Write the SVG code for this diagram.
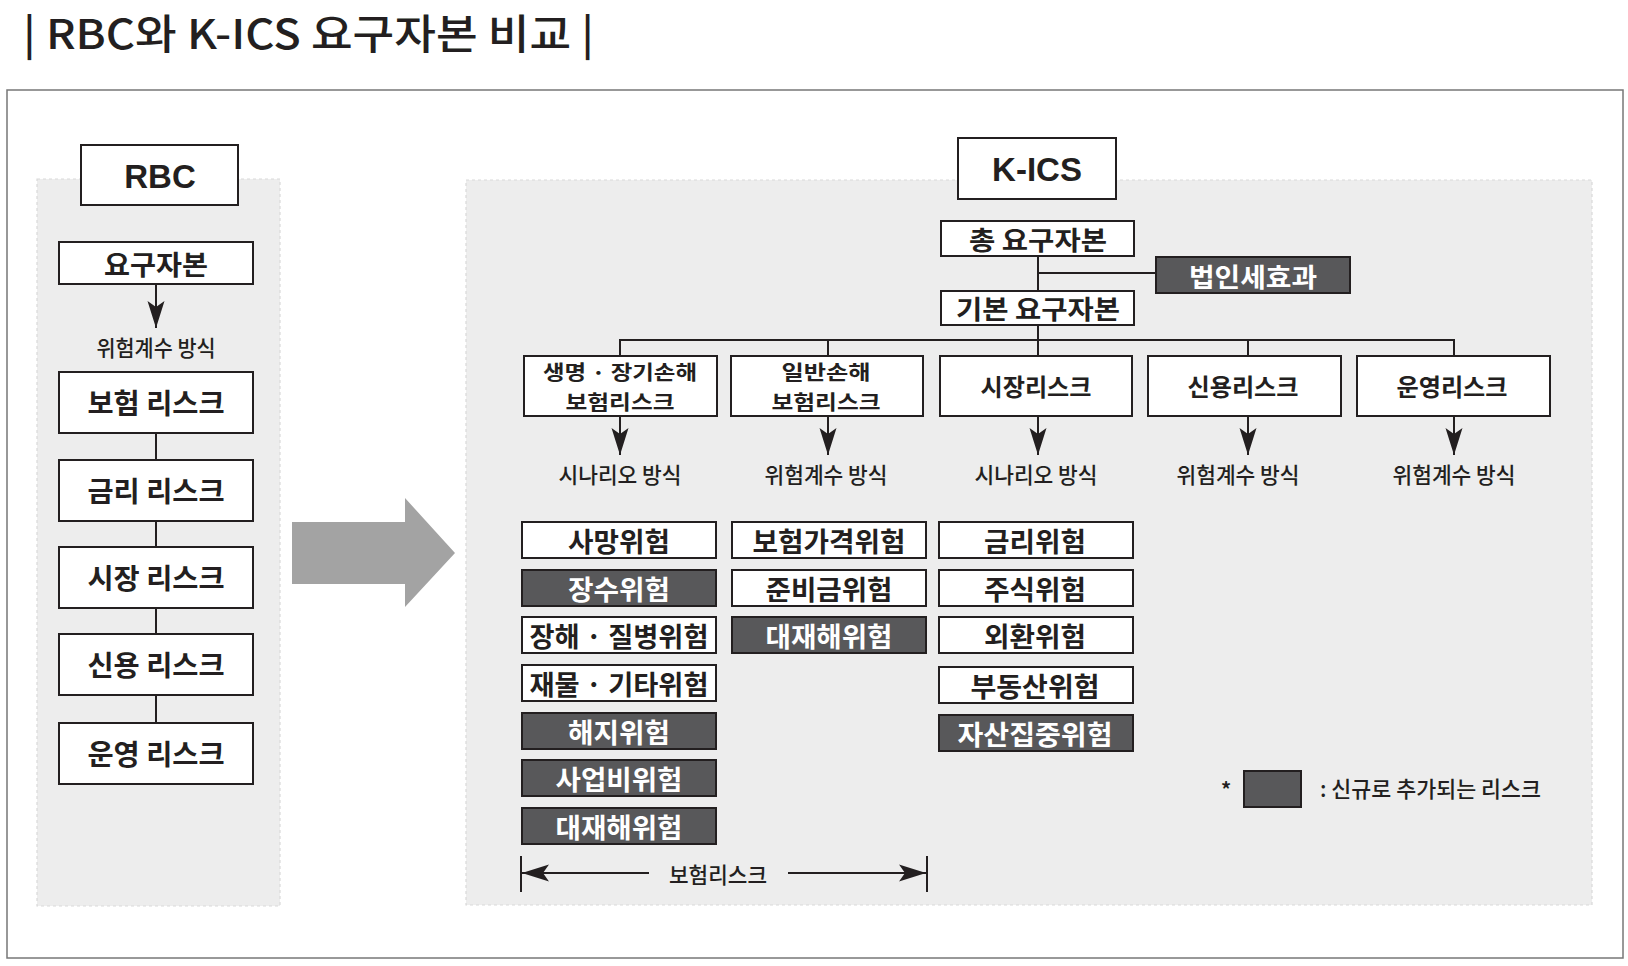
<svg xmlns="http://www.w3.org/2000/svg" width="1628" height="966" viewBox="0 0 1628 966">
<style>
.box{fill:#fff;stroke:#231f20;stroke-width:2}
.dark{fill:#58585a;stroke:#231f20;stroke-width:2}
.panel{fill:#ededed;stroke:#d9d9d9;stroke-width:1.2;stroke-dasharray:3 3}
.t{font-family:"Noto Sans CJK KR","Noto Sans",sans-serif;fill:#231f20;text-anchor:middle;dominant-baseline:central}
.b{font-weight:700}
.m{font-weight:500}
.w{fill:#fff}
.lat{font-family:"Liberation Sans",Arial,sans-serif;font-weight:700}
.ln{stroke:#231f20;stroke-width:2;fill:none}
.ar{stroke:#231f20;stroke-width:2;fill:none;marker-end:url(#ah)}
</style>
<defs>
<marker id="ah" markerUnits="userSpaceOnUse" markerWidth="28" markerHeight="18" viewBox="0 0 28 18" refX="27" refY="9" orient="auto">
<path d="M0,0.5 L27,9 L0,17.5 L6,9 Z" fill="#231f20"/>
</marker>
</defs>
<rect width="1628" height="966" fill="#fff"/>
<text id="title" x="23" y="31" class="t m" style="text-anchor:start;font-size:41px" textLength="571" lengthAdjust="spacingAndGlyphs">| RBC와 K-ICS 요구자본 비교 |</text>
<rect x="7" y="90" width="1616" height="868" fill="none" stroke="#777" stroke-width="1.5"/>
<rect class="panel" x="37" y="179" width="243" height="727"/>
<rect class="panel" x="466" y="180" width="1126" height="725"/>
<polygon id="big-arrow" points="292,522 405,522 405,498 455,553 405,607 405,584 292,584" fill="#a3a3a3"/>
<g id="connectors">
<line class="ar" x1="156" y1="284" x2="156" y2="328"/>
<line class="ln" x1="156" y1="433" x2="156" y2="460"/>
<line class="ln" x1="156" y1="521" x2="156" y2="547"/>
<line class="ln" x1="156" y1="608" x2="156" y2="634"/>
<line class="ln" x1="156" y1="695" x2="156" y2="723"/>
<line class="ln" x1="1038" y1="256" x2="1038" y2="291"/>
<line class="ln" x1="1038" y1="273" x2="1156" y2="273"/>
<line class="ln" x1="1038" y1="325" x2="1038" y2="340"/>
<polyline class="ln" points="620,356 620,340 1454,340 1454,356"/>
<line class="ln" x1="828" y1="340" x2="828" y2="356"/>
<line class="ln" x1="1038" y1="340" x2="1038" y2="356"/>
<line class="ln" x1="1248" y1="340" x2="1248" y2="356"/>
<line class="ar" x1="620" y1="416" x2="620" y2="455"/>
<line class="ar" x1="828" y1="416" x2="828" y2="455"/>
<line class="ar" x1="1038" y1="416" x2="1038" y2="455"/>
<line class="ar" x1="1248" y1="416" x2="1248" y2="455"/>
<line class="ar" x1="1454" y1="416" x2="1454" y2="455"/>
<line class="ln" x1="521" y1="856" x2="521" y2="892"/>
<line class="ln" x1="927" y1="856" x2="927" y2="892"/>
<line class="ar" x1="649" y1="873" x2="522" y2="873"/>
<line class="ar" x1="788" y1="873" x2="926" y2="873"/>
</g>
<g id="rbc-title"><rect class="box" x="81" y="145" width="157" height="60"/><text class="t lat" x="160" y="176" style="font-size:33px">RBC</text></g>
<g id="rbc-req"><rect class="box" x="59" y="242" width="194" height="42"/><text class="t b" x="156" y="263" style="font-size:27px" textLength="104" lengthAdjust="spacingAndGlyphs">요구자본</text></g>
<text id="rbc-method" class="t m" x="156" y="346" style="font-size:22px" textLength="119" lengthAdjust="spacingAndGlyphs">위험계수 방식</text>
<g id="rbc-ins"><rect class="box" x="59" y="372" width="194" height="61"/><text class="t b" x="156" y="402" style="font-size:28px" textLength="137" lengthAdjust="spacingAndGlyphs">보험 리스크</text></g>
<g id="rbc-int"><rect class="box" x="59" y="460" width="194" height="61"/><text class="t b" x="156" y="490" style="font-size:28px" textLength="137" lengthAdjust="spacingAndGlyphs">금리 리스크</text></g>
<g id="rbc-mkt"><rect class="box" x="59" y="547" width="194" height="61"/><text class="t b" x="156" y="577" style="font-size:28px" textLength="137" lengthAdjust="spacingAndGlyphs">시장 리스크</text></g>
<g id="rbc-crd"><rect class="box" x="59" y="634" width="194" height="61"/><text class="t b" x="156" y="664" style="font-size:28px" textLength="137" lengthAdjust="spacingAndGlyphs">신용 리스크</text></g>
<g id="rbc-ops"><rect class="box" x="59" y="723" width="194" height="61"/><text class="t b" x="156" y="753" style="font-size:28px" textLength="137" lengthAdjust="spacingAndGlyphs">운영 리스크</text></g>
<g id="kics-title"><rect class="box" x="958" y="138" width="158" height="61"/><text class="t lat" x="1037" y="169" style="font-size:33px">K-ICS</text></g>
<g id="kics-total"><rect class="box" x="941" y="221" width="193" height="35"/><text class="t b" x="1038" y="238" style="font-size:26px" textLength="138" lengthAdjust="spacingAndGlyphs">총 요구자본</text></g>
<g id="kics-tax"><rect class="dark" x="1156" y="257" width="194" height="36"/><text class="t b w" x="1253" y="275" style="font-size:26px" textLength="128" lengthAdjust="spacingAndGlyphs">법인세효과</text></g>
<g id="kics-basic"><rect class="box" x="941" y="291" width="193" height="34"/><text class="t b" x="1038" y="307" style="font-size:26px" textLength="164" lengthAdjust="spacingAndGlyphs">기본 요구자본</text></g>
<g id="k-life"><rect class="box" x="524" y="356" width="193" height="60"/><text class="t b" x="620" y="371" style="font-size:20px" textLength="154" lengthAdjust="spacingAndGlyphs">생명 · 장기손해</text><text class="t b" x="620" y="401" style="font-size:20px" textLength="109" lengthAdjust="spacingAndGlyphs">보험리스크</text></g>
<g id="k-gen"><rect class="box" x="731" y="356" width="192" height="60"/><text class="t b" x="826" y="371" style="font-size:20px" textLength="89" lengthAdjust="spacingAndGlyphs">일반손해</text><text class="t b" x="826" y="401" style="font-size:20px" textLength="109" lengthAdjust="spacingAndGlyphs">보험리스크</text></g>
<g id="k-mkt"><rect class="box" x="940" y="356" width="192" height="60"/><text class="t b" x="1036" y="385" style="font-size:24px" textLength="111" lengthAdjust="spacingAndGlyphs">시장리스크</text></g>
<g id="k-crd"><rect class="box" x="1148" y="356" width="193" height="60"/><text class="t b" x="1243" y="385" style="font-size:24px" textLength="111" lengthAdjust="spacingAndGlyphs">신용리스크</text></g>
<g id="k-ops"><rect class="box" x="1357" y="356" width="193" height="60"/><text class="t b" x="1452" y="385" style="font-size:24px" textLength="111" lengthAdjust="spacingAndGlyphs">운영리스크</text></g>
<g id="methods">
<text class="t m" x="620" y="473" style="font-size:22px" textLength="123" lengthAdjust="spacingAndGlyphs">시나리오 방식</text>
<text class="t m" x="826" y="473" style="font-size:22px" textLength="123" lengthAdjust="spacingAndGlyphs">위험계수 방식</text>
<text class="t m" x="1036" y="473" style="font-size:22px" textLength="123" lengthAdjust="spacingAndGlyphs">시나리오 방식</text>
<text class="t m" x="1238" y="473" style="font-size:22px" textLength="123" lengthAdjust="spacingAndGlyphs">위험계수 방식</text>
<text class="t m" x="1454" y="473" style="font-size:22px" textLength="123" lengthAdjust="spacingAndGlyphs">위험계수 방식</text>
</g>
<g id="c1-1"><rect class="box" x="522" y="522" width="194" height="36"/><text class="t b" x="619" y="540" style="font-size:27px" textLength="102" lengthAdjust="spacingAndGlyphs">사망위험</text></g>
<g id="c1-2"><rect class="dark" x="522" y="570" width="194" height="36"/><text class="t b w" x="619" y="588" style="font-size:27px" textLength="102" lengthAdjust="spacingAndGlyphs">장수위험</text></g>
<g id="c1-3"><rect class="box" x="522" y="617" width="194" height="36"/><text class="t b" x="619" y="635" style="font-size:27px" textLength="179" lengthAdjust="spacingAndGlyphs">장해 · 질병위험</text></g>
<g id="c1-4"><rect class="box" x="522" y="665" width="194" height="36"/><text class="t b" x="619" y="683" style="font-size:27px" textLength="179" lengthAdjust="spacingAndGlyphs">재물 · 기타위험</text></g>
<g id="c1-5"><rect class="dark" x="522" y="713" width="194" height="36"/><text class="t b w" x="619" y="731" style="font-size:27px" textLength="102" lengthAdjust="spacingAndGlyphs">해지위험</text></g>
<g id="c1-6"><rect class="dark" x="522" y="760" width="194" height="36"/><text class="t b w" x="619" y="778" style="font-size:27px" textLength="127" lengthAdjust="spacingAndGlyphs">사업비위험</text></g>
<g id="c1-7"><rect class="dark" x="522" y="808" width="194" height="36"/><text class="t b w" x="619" y="826" style="font-size:27px" textLength="127" lengthAdjust="spacingAndGlyphs">대재해위험</text></g>
<g id="c2-1"><rect class="box" x="732" y="522" width="194" height="36"/><text class="t b" x="829" y="540" style="font-size:27px" textLength="153" lengthAdjust="spacingAndGlyphs">보험가격위험</text></g>
<g id="c2-2"><rect class="box" x="732" y="570" width="194" height="36"/><text class="t b" x="829" y="588" style="font-size:27px" textLength="127" lengthAdjust="spacingAndGlyphs">준비금위험</text></g>
<g id="c2-3"><rect class="dark" x="732" y="617" width="194" height="36"/><text class="t b w" x="829" y="635" style="font-size:27px" textLength="127" lengthAdjust="spacingAndGlyphs">대재해위험</text></g>
<g id="c3-1"><rect class="box" x="939" y="522" width="194" height="36"/><text class="t b" x="1035" y="540" style="font-size:27px" textLength="102" lengthAdjust="spacingAndGlyphs">금리위험</text></g>
<g id="c3-2"><rect class="box" x="939" y="570" width="194" height="36"/><text class="t b" x="1035" y="588" style="font-size:27px" textLength="102" lengthAdjust="spacingAndGlyphs">주식위험</text></g>
<g id="c3-3"><rect class="box" x="939" y="617" width="194" height="36"/><text class="t b" x="1035" y="635" style="font-size:27px" textLength="102" lengthAdjust="spacingAndGlyphs">외환위험</text></g>
<g id="c3-4"><rect class="box" x="939" y="667" width="194" height="36"/><text class="t b" x="1035" y="685" style="font-size:27px" textLength="129" lengthAdjust="spacingAndGlyphs">부동산위험</text></g>
<g id="c3-5"><rect class="dark" x="939" y="715" width="194" height="36"/><text class="t b w" x="1035" y="733" style="font-size:27px" textLength="155" lengthAdjust="spacingAndGlyphs">자산집중위험</text></g>
<text id="ins-range" class="t m" x="718" y="873" style="font-size:22px" textLength="98" lengthAdjust="spacingAndGlyphs">보험리스크</text>
<g id="legend">
<text class="t b" x="1226" y="788" style="font-size:20px">*</text>
<rect class="dark" x="1244" y="771" width="57" height="36"/>
<text class="t m" x="1320" y="787" style="font-size:22px;text-anchor:start" textLength="221" lengthAdjust="spacingAndGlyphs">: 신규로 추가되는 리스크</text>
</g>
</svg>
